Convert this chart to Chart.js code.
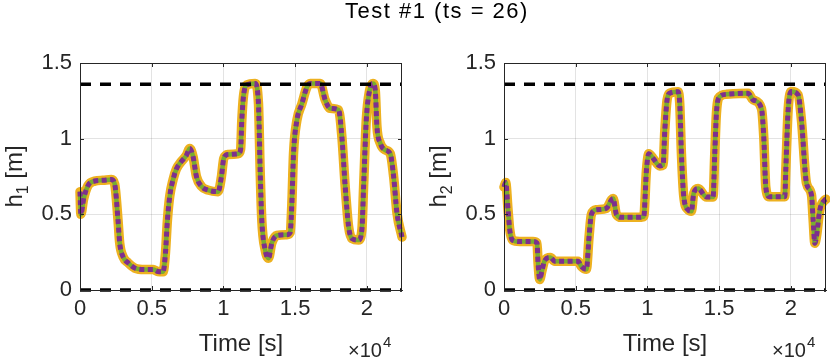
<!DOCTYPE html>
<html>
<head>
<meta charset="utf-8">
<script src="https://cdn.jsdelivr.net/npm/chart.js@4.4.1/dist/chart.umd.min.js"></script>
<style>
  body { margin: 0; background: #fff; }
  #wrap { position: relative; width: 830px; height: 358px; overflow: hidden; }
  #title { position: absolute; left: 22px; top: -2px; width: 830px; text-align: center;
           font: 22px 'Liberation Sans', Arial, sans-serif; letter-spacing: 1.5px; color: #000; }
  canvas { position: absolute; top: 0; }
</style>
</head>
<body>
<div id="wrap">
  <canvas id="c1" width="415" height="358" style="left:0"></canvas>
  <canvas id="c2" width="415" height="358" style="left:415px"></canvas>
  <div id="title">Test #1 (ts = 26)</div>
</div>
<script>
// axis ticks
const xTicks = [0, 5000, 10000, 15000, 20000];
const yTicks = [0, 0.5, 1, 1.5];
const tEnd = 22450;
const hLimits = [0, 1.36];   // dashed min / max level

// tank 1 level
const t1 = [0, 60, 250, 558, 1023, 1600, 2187, 2419, 2652, 2768, 3000, 3350, 3815, 4513, 5094, 5443, 5792,
  5955, 6094, 6257, 6490, 6723, 7071, 7420, 7653, 7885, 8118, 8467, 8932, 9630, 9862, 10025, 10327, 11025,
  11200, 11281, 11397, 11630, 12211, 12444, 12560, 12676, 12909, 13142, 13374, 13723, 14421, 14654, 14770,
  14886, 15119, 15468, 15817, 16050, 16748, 17097, 17446, 18027, 18260, 18492, 18725, 18958, 19423, 19655,
  19772, 19958, 20191, 20423, 20586, 20702, 20935, 21284, 21633, 21866, 22098, 22450];
const h1 = [0.65, 0.50, 0.60, 0.69, 0.72, 0.725, 0.73, 0.70, 0.46, 0.31, 0.22, 0.18, 0.145, 0.135, 0.135, 0.122, 0.12,
  0.24, 0.46, 0.62, 0.73, 0.80, 0.85, 0.89, 0.935, 0.88, 0.75, 0.685, 0.66, 0.65, 0.75, 0.87, 0.895, 0.90,
  0.93, 1.12, 1.28, 1.355, 1.365, 1.23, 0.79, 0.46, 0.265, 0.21, 0.31, 0.36, 0.365, 0.38, 0.57,
  0.90, 1.12, 1.23, 1.34, 1.365, 1.365, 1.255, 1.20, 1.19, 1.01, 0.68, 0.42, 0.34, 0.33, 0.40,
  0.68, 1.12, 1.32, 1.365, 1.32, 1.08, 0.97, 0.925, 0.90, 0.75, 0.51, 0.35];

// tank 2 level
const t2 = [0, 120, 282, 398, 584, 1095, 2025, 2304, 2374, 2490, 2653, 2839, 3234, 3536, 4350, 5164, 5396, 5745,
  5930, 6093, 6442, 7139, 7488, 7604, 7837, 8186, 9232, 9744, 9930, 10093, 10395, 10860, 11092, 11209,
  11370, 11556, 12137, 12253, 12370, 12532, 12834, 13067, 13230, 13532, 14113, 14578, 14694, 14810, 15043,
  15508, 17019, 17368, 17949, 18112, 18252, 18484, 19577, 19647, 19810, 20042, 20507, 20740, 21089, 21438,
  21554, 21670, 21786, 22019, 22368, 22450];
const h2 = [0.68, 0.71, 0.53, 0.40, 0.33, 0.32, 0.32, 0.31, 0.18, 0.07, 0.13, 0.195, 0.215, 0.19, 0.19, 0.19, 0.155, 0.137,
  0.35, 0.50, 0.53, 0.54, 0.595, 0.605, 0.50, 0.48, 0.48, 0.485, 0.79, 0.90, 0.87, 0.82, 0.826, 1.05,
  1.256, 1.30, 1.31, 1.23, 0.90, 0.62, 0.53, 0.52, 0.64, 0.67, 0.615, 0.615, 0.90, 1.167, 1.278,
  1.293, 1.30, 1.256, 1.20, 1.01, 0.68, 0.617, 0.617, 0.79, 1.19, 1.311, 1.289, 1.12, 0.705, 0.628,
  0.463, 0.309, 0.353, 0.529, 0.595, 0.60];

const FONT = "'Liberation Sans', Arial, sans-serif";
const AX = '#262626';

function makeChart(id, t, h, sub, yWidth, padRight) {
  const pts = t.map((v, i) => ({ x: v, y: h[i] }));
  const line = (color, width, dash, order, cap) => ({
    data: pts, borderColor: color, borderWidth: width, borderDash: dash, order,
    pointRadius: 0, cubicInterpolationMode: 'monotone', borderCapStyle: cap,
    borderJoinStyle: 'round', fill: false, clip: false
  });
  const level = v => ({
    data: [{ x: 0, y: v }, { x: tEnd, y: v }], borderColor: '#000', borderWidth: 3.5,
    borderDash: [11, 9], pointRadius: 0, order: 0, clip: false, fill: false
  });

  // box, inward ticks, axis titles
  const deco = {
    id: 'deco',
    afterDraw(chart) {
      const { ctx, chartArea: a, scales } = chart;
      ctx.save();
      ctx.strokeStyle = AX; ctx.lineWidth = 1;
      ctx.strokeRect(a.left + 0.5, a.top + 0.5, a.right - a.left - 1, a.bottom - a.top);
      ctx.beginPath();
      xTicks.forEach(v => {
        const x = Math.round(scales.x.getPixelForValue(v)) + 0.5;
        ctx.moveTo(x, a.top); ctx.lineTo(x, a.top + 4);
        ctx.moveTo(x, a.bottom); ctx.lineTo(x, a.bottom - 4);
      });
      yTicks.forEach(v => {
        const y = Math.round(scales.y.getPixelForValue(v)) + 0.5;
        ctx.moveTo(a.left, y); ctx.lineTo(a.left + 4, y);
        ctx.moveTo(a.right, y); ctx.lineTo(a.right - 4, y);
      });
      ctx.stroke();

      ctx.fillStyle = AX;
      // x title
      ctx.font = '24px ' + FONT;
      ctx.textAlign = 'center'; ctx.textBaseline = 'alphabetic';
      ctx.fillText('Time [s]', (a.left + a.right) / 2, 351);
      // exponent
      ctx.textAlign = 'left';
      ctx.font = '20px ' + FONT;
      const ex = a.right - 54;
      ctx.fillText('\u00d710', ex, 357);
      const w = ctx.measureText('\u00d710').width;
      ctx.font = '15px ' + FONT;
      ctx.fillText('4', ex + w + 1, 347);
      // y title with subscript
      ctx.translate(yWidth - 58, (a.top + a.bottom) / 2);
      ctx.rotate(-Math.PI / 2);
      ctx.font = '24px ' + FONT;
      const wh = ctx.measureText('h').width;
      ctx.font = '16px ' + FONT;
      const ws = ctx.measureText(sub).width;
      ctx.font = '24px ' + FONT;
      const wr = ctx.measureText(' [m]').width;
      let x0 = -(wh + ws + wr) / 2;
      ctx.fillText('h', x0, 0);
      ctx.font = '16px ' + FONT;
      ctx.fillText(sub, x0 + wh, 6);
      ctx.font = '24px ' + FONT;
      ctx.fillText(' [m]', x0 + wh + ws, 0);
      ctx.restore();
    }
  };

  return new Chart(document.getElementById(id), {
    type: 'line',
    data: {
      datasets: [
        level(hLimits[0]), level(hLimits[1]),
        line('#7E2F8E', 5, [5, 3.5], 1, 'butt'),
        line('#77AC30', 4.5, [], 2, 'butt'),
        line('#EDB120', 9.5, [], 3, 'round')
      ]
    },
    options: {
      responsive: false,
      animation: false,
      layout: { padding: { top: 63, right: padRight, left: 0, bottom: 0 } },
      plugins: { legend: { display: false }, tooltip: { enabled: false } },
      scales: {
        x: {
          type: 'linear', min: 0, max: tEnd,
          afterBuildTicks: s => { s.ticks = xTicks.map(v => ({ value: v })); },
          afterFit: s => { s.height = 68; },
          ticks: { callback: v => String(v / 10000), color: AX, padding: 6, maxRotation: 0,
                   font: { family: FONT, size: 22 } },
          grid: { color: 'rgba(38,38,38,0.13)', drawTicks: false },
          border: { color: AX, width: 1 }
        },
        y: {
          type: 'linear', min: 0, max: 1.5,
          afterBuildTicks: s => { s.ticks = yTicks.map(v => ({ value: v })); },
          afterFit: s => { s.width = yWidth; },
          ticks: { callback: v => String(v), color: AX, padding: 8,
                   font: { family: FONT, size: 22 } },
          grid: { color: 'rgba(38,38,38,0.13)', drawTicks: false },
          border: { color: AX, width: 1 }
        }
      }
    },
    plugins: [deco]
  });
}

makeChart('c1', t1, h1, '1', 80, 13);
makeChart('c2', t2, h2, '2', 89, 4);
</script>
</body>
</html>
